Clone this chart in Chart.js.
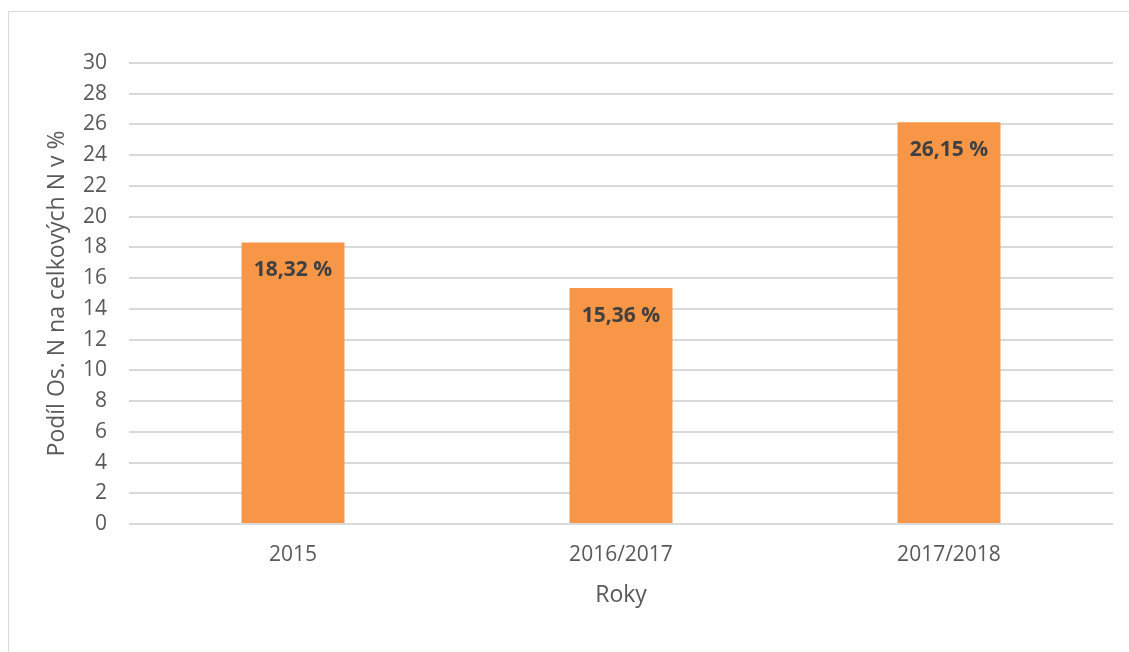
<!DOCTYPE html>
<html>
<head>
<meta charset="utf-8">
<script src="https://cdn.jsdelivr.net/npm/chart.js@4"></script>
<style>
  html, body { margin: 0; padding: 0; background: #fff; overflow: hidden; }
  #frame { position: absolute; left: 8px; top: 11px; width: 1200px; height: 700px; border: 1px solid #d9d9d9; }
  #wrap { position: absolute; left: 0; top: 0; width: 1129px; height: 652px; }
</style>
</head>
<body>
<div id="frame"></div>
<div id="wrap"><canvas id="c" width="1129" height="652"></canvas></div>
<script>
const categories = ["2015", "2016/2017", "2017/2018"];
const shareValues = [18.32, 15.36, 26.15];
const valueLabels = ["18,32 %", "15,36 %", "26,15 %"];
const yTicks = [0, 2, 4, 6, 8, 10, 12, 14, 16, 18, 20, 22, 24, 26, 28, 30];
const yTitle = "Podíl Os. N na celkových N v %";
const xTitle = "Roky";

const FONT = "'Open Sans', 'DejaVu Sans', sans-serif";

const labelPlugin = {
  id: 'inLabels',
  afterDatasetsDraw(chart) {
    const ctx = chart.ctx;
    const meta = chart.getDatasetMeta(0);
    ctx.save();
    ctx.font = "bold 21px " + FONT;
    ctx.fillStyle = "#404040";
    ctx.textAlign = "center";
    ctx.textBaseline = "middle";
    meta.data.forEach((bar, i) => {
      ctx.fillText(valueLabels[i], bar.x, bar.y + 28);
    });
    ctx.restore();
  }
};

new Chart(document.getElementById('c'), {
  type: 'bar',
  data: {
    labels: categories,
    datasets: [{
      data: shareValues,
      backgroundColor: '#f79646',
      borderWidth: 0,
      barPercentage: 0.314,
      categoryPercentage: 1.0
    }]
  },
  options: {
    responsive: false,
    animation: false,
    devicePixelRatio: 1,
    layout: { padding: { left: 44, right: 16, top: 63, bottom: 0 } },
    plugins: { legend: { display: false }, tooltip: { enabled: false } },
    scales: {
      x: {
        grid: { display: false, drawTicks: false },
        border: { display: false },
        ticks: { color: '#595959', font: { family: FONT, size: 21 }, padding: 18 },
        title: { display: true, text: xTitle, color: '#595959', font: { family: FONT, size: 23 }, padding: { top: 0, bottom: 43 } },
        afterFit(scale) { scale.height = 128; }
      },
      y: {
        min: 0, max: 30,
        afterBuildTicks(scale) { scale.ticks = yTicks.map(v => ({ value: v })); },
        grid: { color: '#d9d9d9', lineWidth: 2, drawTicks: false },
        border: { display: false },
        ticks: { color: '#595959', font: { family: FONT, size: 21 }, padding: 22 },
        title: { display: true, text: yTitle, color: '#595959', font: { family: FONT, size: 23 }, padding: { top: 0, bottom: 0 } },
        afterFit(scale) { scale.width = 85; }
      }
    }
  },
  plugins: [labelPlugin]
});
</script>
</body>
</html>
